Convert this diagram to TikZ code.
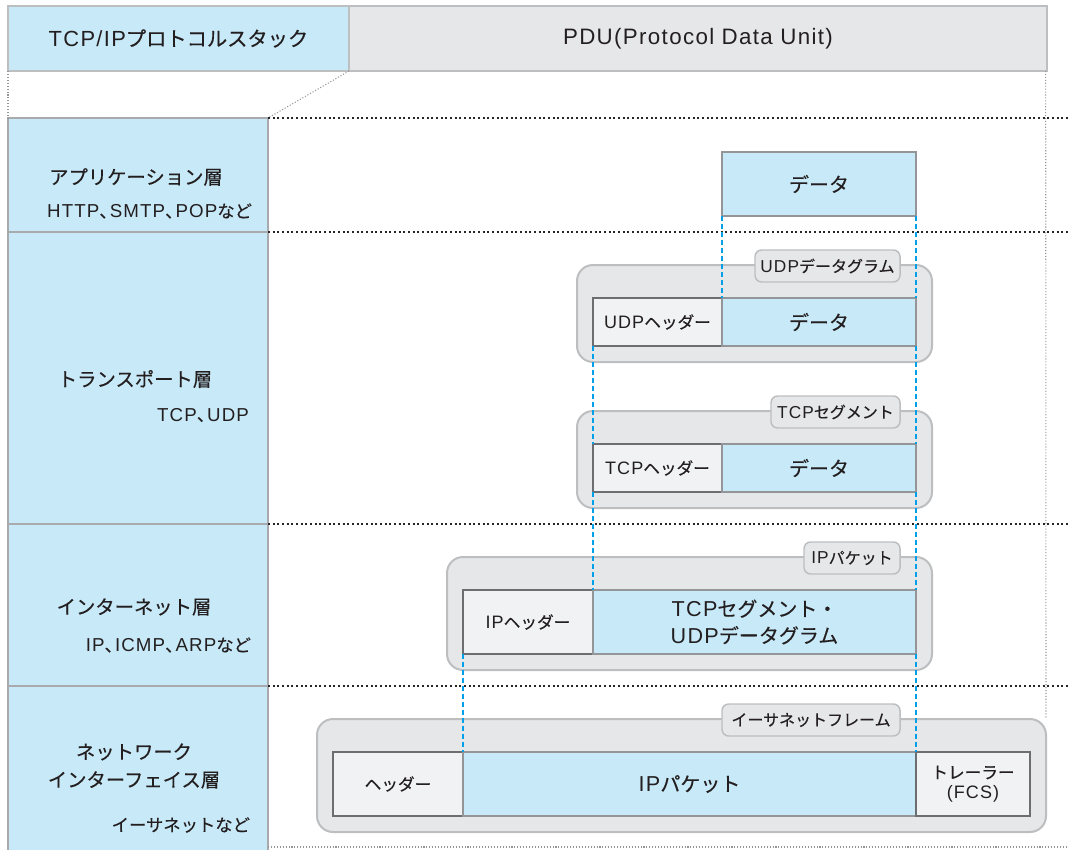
\documentclass[tikz,border=0pt]{standalone}
\usepackage{fontspec}
\setmainfont{Noto Sans CJK JP}[FakeBold=0.3]
\newfontfamily\la{Liberation Sans}[Scale=1.08,LetterSpace=6]
\newcommand\lt[1]{{\la #1}}
\newcommand\tn{、\hspace{-0.4em}}
\definecolor{lb}{HTML}{C8E9F8}
\definecolor{gf}{HTML}{E6E7E8}
\definecolor{gb}{HTML}{BCBEC0}
\definecolor{hf}{HTML}{F1F2F3}
\definecolor{hb}{HTML}{6D6E71}
\definecolor{db}{HTML}{939598}
\definecolor{cy}{HTML}{00A0E9}
\definecolor{tx}{HTML}{231F20}
\newcommand\bx[7]{\node[#1, anchor=north west, minimum width={(#4-#2)*0.75pt}, minimum height={(#5-#3)*0.75pt}] (#6) at (#2,#3) {#7};}
\begin{document}
\begin{tikzpicture}[x=0.75pt,y=-0.75pt,
  every node/.style={inner sep=0pt, outer sep=0pt, align=center, text=tx},
  layerbox/.style={draw=db!80, fill=lb, line width=1.1pt},
  topblue/.style={draw=gb, fill=lb, line width=1.1pt, font=\fontsize{15.2}{18}\selectfont},
  topgray/.style={draw=gb, fill=gf, line width=1.1pt, font=\fontsize{15.5}{18}\selectfont},
  group/.style={draw=gb, fill=gf, line width=1.5pt, rounded corners=12pt},
  tag/.style={draw=gb, fill=gf, line width=1.1pt, rounded corners=5pt, font=\fontsize{12}{13}\selectfont},
  hdr/.style={draw=hb, fill=hf, line width=1.1pt, font=\fontsize{12.5}{15}\selectfont},
  dat/.style={draw=db, fill=lb, line width=1.1pt, font=\fontsize{15}{20}\selectfont},
  blk/.style={draw=black!85, line width=1.5pt, dash pattern=on 1.5pt off 2pt},
  thin/.style={draw=db, line width=0.8pt, dash pattern=on 0.8pt off 1.4pt},
  cyd/.style={draw=cy, line width=1.6pt, dash pattern=on 4pt off 2pt},
  big/.style={font=\fontsize{14.5}{21}\selectfont},
  small/.style={font=\fontsize{13}{15}\selectfont}]
\useasboundingbox (0,0) rectangle (1069,849);
% header
\bx{topblue}{8}{6}{349}{71}{topl}{\lt{TCP/IP}プロトコルスタック}
\bx{topgray}{349}{6}{1047}{71}{topg}{\lt{PDU(Protocol Data Unit)}}
% left column
\bx{layerbox}{8}{118}{268}{232}{l1}{}
\bx{layerbox}{8}{232}{268}{524}{l2}{}
\bx{layerbox}{8}{524}{268}{686}{l3}{}
\bx{layerbox}{8}{686}{268}{851}{l4}{}
\node[big] (t1) at (136,177) {アプリケーション層};
\node[small, anchor=east] (s1) at (252,211) {\lt{HTTP}\tn\lt{SMTP}\tn\lt{POP}など};
\node[big] (t2) at (135,379) {トランスポート層};
\node[small, anchor=east] (s2) at (249,415) {\lt{TCP}\tn\lt{UDP}};
\node[big] (t3) at (134,607) {インターネット層};
\node[small, anchor=east] (s3) at (251,645) {\lt{IP}\tn\lt{ICMP}\tn\lt{ARP}など};
\node[big] (t4) at (134,766) {ネットワーク\\インターフェイス層};
\node[small, anchor=east] (s4) at (250,825) {イーサネットなど};
% dotted guide lines
\coordinate (rb) at (1046,719);
\coordinate (e1) at (1069,118);
\coordinate (e2) at (1069,232);
\coordinate (e3) at (1069,524);
\coordinate (e4) at (1069,686);
\coordinate (b0) at (268,847);
\coordinate (b1) at (1069,847);
\draw[thin] (topl.south west) -- (l1.north west);
\draw[thin] (topl.south east) -- (l1.north east);
\draw[thin] ([xshift=-1]topg.south east) -- (rb);
\draw[thin] (b0) -- (b1);
\draw[blk] (l1.north east) -- (e1);
\draw[blk] (l2.north east) -- (e2);
\draw[blk] (l3.north east) -- (e3);
\draw[blk] (l4.north east) -- (e4);
% application
\bx{dat}{722}{152}{916}{216}{appd}{データ}
% UDP
\bx{group}{577}{265}{932}{362}{udpg}{}
\bx{tag}{755}{250}{900}{282}{udpt}{\lt{UDP}データグラム}
\bx{hdr}{593}{298}{722}{346}{udph}{\lt{UDP}ヘッダー}
\bx{dat}{722}{298}{916}{346}{udpd}{データ}
% TCP
\bx{group}{577}{411}{932}{508}{tcpg}{}
\bx{tag}{771}{396}{900}{428}{tcpt}{\lt{TCP}セグメント}
\bx{hdr}{593}{444}{722}{492}{tcph}{\lt{TCP}ヘッダー}
\bx{dat}{722}{444}{916}{492}{tcpd}{データ}
% IP
\bx{group}{447}{557}{932}{670}{ipg}{}
\bx{tag}{804}{542}{900}{574}{ipt}{\lt{IP}パケット}
\bx{hdr}{463}{590}{593}{654}{iph}{\lt{IP}ヘッダー}
\bx{dat}{593}{590}{916}{654}{ipd}{\lt{TCP}セグメント・\\\lt{UDP}データグラム}
% Ethernet
\bx{group}{317}{719}{1046}{832}{ethg}{}
\bx{tag}{722}{704}{900}{736}{etht}{イーサネットフレーム}
\bx{hdr}{333}{752}{463}{816}{ethh}{ヘッダー}
\bx{dat}{463}{752}{916}{816}{ethd}{\lt{IP}パケット}
\bx{hdr}{916}{752}{1030}{816}{etht2}{トレーラー\\\lt{(FCS)}}
% blue dashed connectors
\draw[cyd] (appd.south west) -- (udpd.north west);
\draw[cyd] (appd.south east) -- (udpd.north east);
\draw[cyd] (udph.south west) -- (tcph.north west);
\draw[cyd] (udpd.south east) -- (tcpd.north east);
\draw[cyd] (tcph.south west) -- (ipd.north west);
\draw[cyd] (tcpd.south east) -- (ipd.north east);
\draw[cyd] (iph.south west) -- (ethd.north west);
\draw[cyd] (ipd.south east) -- (ethd.north east);
\end{tikzpicture}
\end{document}
